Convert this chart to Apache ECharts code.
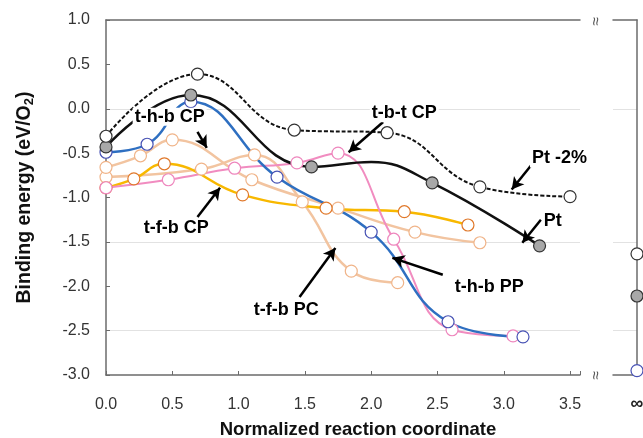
<!DOCTYPE html>
<html>
<head>
<meta charset="utf-8">
<script src="https://cdn.jsdelivr.net/npm/echarts@6/dist/echarts.min.js"></script>
<style>html,body{margin:0;padding:0;background:#fff}#main{width:643px;height:438px}</style>
</head>
<body>
<div id="main"></div>
<script>
// 数据：从图上读出的 [x, y]
var ptMinus2 = [[0,-0.31],[0.69,0.39],[1.42,-0.24],[2.12,-0.27],[2.82,-0.88],[3.5,-0.99]];
var pt = [[0,-0.43],[0.64,0.155],[1.55,-0.655],[2.0,-0.60],[2.46,-0.835],[3.27,-1.545]];
var ptNoMarker = [2.0];   // 曲线经过但没有圆点的位置
var thbPP = [[0,-0.49],[0.31,-0.40],[0.64,0.08],[1.29,-0.77],[2.0,-1.39],[2.58,-2.40],[3.145,-2.57]];
var tbtCP = [[0,-0.89],[0.47,-0.80],[0.97,-0.67],[1.44,-0.61],[1.75,-0.50],[2.17,-1.47],[2.61,-2.49],[3.07,-2.56]];
var tfbCP = [[0,-0.89],[0.21,-0.79],[0.44,-0.62],[1.03,-0.97],[1.66,-1.12],[2.25,-1.16],[2.73,-1.31]];
var thbCP = [[0,-0.66],[0.26,-0.53],[0.50,-0.35],[1.10,-0.80],[1.75,-1.12],[2.33,-1.39],[2.82,-1.51]];
var tfbPC = [[0,-0.77],[0.72,-0.68],[1.12,-0.52],[1.48,-1.05],[1.85,-1.83],[2.20,-1.96]];

// 右侧 ∞ 处的值
var infPtMinus2 = [[1,-1.635]];
var infPt = [[1,-2.11]];
var infThbPP = [[1,-2.95]];

// 标注文字 + 箭头（数据坐标）
var notes = [
    {text:'t-h-b CP', at:[0.48,-0.09], from:[0.69,-0.26], to:[0.76,-0.44]},
    {text:'t-b-t CP', at:[2.25,-0.05], from:[2.09,-0.15], to:[1.83,-0.49]},
    {text:'Pt -2%', at:[3.42,-0.56], from:[3.21,-0.63], to:[3.06,-0.91]},
    {text:'Pt', at:[3.37,-1.27], from:[3.28,-1.25], to:[3.14,-1.51]},
    {text:'t-h-b PP', at:[2.89,-2.01], from:[2.54,-1.87], to:[2.16,-1.68]},
    {text:'t-f-b PC', at:[1.36,-2.27], from:[1.46,-2.12], to:[1.73,-1.57]},
    {text:'t-f-b CP', at:[0.53,-1.34], from:[0.69,-1.22], to:[0.86,-0.89]}
];

var font = 'Liberation Sans';
var axisGray = '#6b6b6b';
// 只在 0.0 / -1.5 / -2.5 有浅色网格线
var gridColors = ['transparent','#e2e2e2','transparent','#e2e2e2','transparent','transparent','#e2e2e2','transparent','transparent'];

function curve(name, data, lineColor, edgeColor, fill, width, dash, noMarker) {
    var items = data.map(function (p) {
        if (noMarker && noMarker.indexOf(p[0]) >= 0) {
            return {value: p, symbol: 'none'};
        }
        return p;
    });
    return {
        name: name,
        type: 'line',
        xAxisIndex: 0, yAxisIndex: 0,
        data: items,
        smooth: 0.45,
        clip: false,
        symbol: 'circle',
        symbolSize: 12,
        lineStyle: {color: lineColor, width: width, type: dash || 'solid'},
        itemStyle: {color: fill, borderColor: edgeColor, borderWidth: 1.2}
    };
}

function infPoint(name, data, edgeColor, fill) {
    return {
        name: name,
        type: 'line',
        xAxisIndex: 2, yAxisIndex: 1,
        data: data,
        clip: false,
        symbol: 'circle',
        symbolSize: 12,
        lineStyle: {width: 0},
        itemStyle: {color: fill, borderColor: edgeColor, borderWidth: 1.2}
    };
}

var myChart = echarts.init(document.getElementById('main'), null, {renderer: 'canvas'});

var option = {
    backgroundColor: '#fff',
    animation: false,
    textStyle: {fontFamily: font},
    grid: [
        {left: 106, top: 20, width: 474, height: 355, outerBoundsMode: 'none', containLabel: false},
        {left: 613, top: 20, width: 24, height: 355, outerBoundsMode: 'none', containLabel: false}
    ],
    xAxis: [
        {
            type: 'value', gridIndex: 0, min: 0, max: 3.575, interval: 0.5,
            name: 'Normalized reaction coordinate', nameLocation: 'middle', nameGap: 45,
            nameTextStyle: {fontFamily: font, fontSize: 18.5, fontWeight: 'bold', color: '#111', padding: [0, 0, 0, 30]},
            axisLine: {onZero: false, lineStyle: {color: axisGray, width: 1.5}},
            axisTick: {inside: true, length: 4, lineStyle: {color: axisGray}},
            axisLabel: {
                fontFamily: font, fontSize: 16, color: '#333', margin: 22,
                formatter: function (v) { return Math.abs(v * 2 - Math.round(v * 2)) < 1e-6 ? v.toFixed(1) : ''; }
            },
            splitLine: {show: false}
        },
        {
            type: 'value', gridIndex: 0, position: 'top', min: 0, max: 3.575,
            axisLine: {onZero: false, lineStyle: {color: axisGray, width: 1.5}},
            axisTick: {show: false}, axisLabel: {show: false}, splitLine: {show: false}
        },
        {
            type: 'value', gridIndex: 1, min: 0, max: 1, interval: 1,
            axisLine: {onZero: false, lineStyle: {color: axisGray, width: 1.5}},
            axisTick: {show: false},
            axisLabel: {
                fontFamily: font, fontSize: 18, fontWeight: 'bold', color: '#222', margin: 20,
                formatter: function (v) { return v === 1 ? '∞' : ''; }
            },
            splitLine: {show: false}
        },
        {
            type: 'value', gridIndex: 1, position: 'top', min: 0, max: 1,
            axisLine: {onZero: false, lineStyle: {color: axisGray, width: 1.5}},
            axisTick: {show: false}, axisLabel: {show: false}, splitLine: {show: false}
        }
    ],
    yAxis: [
        {
            type: 'value', gridIndex: 0, min: -3, max: 1, interval: 0.5,
            name: '{a|Binding energy (eV/O}{s|2}{a|)}', nameLocation: 'middle', nameGap: 70,
            nameTextStyle: {
                rich: {
                    a: {fontFamily: font, fontSize: 19.5, fontWeight: 'bold', color: '#111', lineHeight: 22},
                    s: {fontFamily: font, fontSize: 13, fontWeight: 'bold', color: '#111', lineHeight: 22, verticalAlign: 'bottom', padding: [8, 0, 0, 0]}
                }
            },
            axisLine: {onZero: false, lineStyle: {color: axisGray, width: 1.5}},
            axisTick: {inside: true, length: 4, lineStyle: {color: axisGray}},
            axisLabel: {fontFamily: font, fontSize: 16, color: '#333', margin: 16, formatter: function (v) { return v.toFixed(1); }},
            splitLine: {show: true, lineStyle: {color: gridColors, width: 1}}
        },
        {
            type: 'value', gridIndex: 1, position: 'right', min: -3, max: 1, interval: 0.5,
            axisLine: {onZero: false, lineStyle: {color: axisGray, width: 1.5}},
            axisTick: {show: false}, axisLabel: {show: false},
            splitLine: {show: true, lineStyle: {color: gridColors, width: 1}}
        }
    ],
    graphic: [
        {type: 'text', x: 597, y: 21, rotation: Math.PI / 2, style: {text: '≈', fontSize: 16, fill: '#555', align: 'center', verticalAlign: 'middle'}},
        {type: 'text', x: 597, y: 375, rotation: Math.PI / 2, style: {text: '≈', fontSize: 16, fill: '#555', align: 'center', verticalAlign: 'middle'}}
    ],
    series: [
        curve('t-f-b PC', tfbPC, '#f2c4a0', '#f0b489', '#fff', 2.5),
        curve('t-h-b CP', thbCP, '#f2c4a0', '#f0b489', '#fff', 2.5),
        curve('t-f-b CP', tfbCP, '#f8b800', '#e0782a', '#fff', 2.5),
        curve('t-b-t CP', tbtCP, '#f18cc0', '#ee86bd', '#fff', 2),
        curve('t-h-b PP', thbPP, '#2e6fc1', '#4752b4', '#fff', 2.5),
        curve('Pt', pt, '#111', '#333', '#a8a8a8', 2.5, null, ptNoMarker),
        curve('Pt -2%', ptMinus2, '#111', '#333', '#fff', 2, [4, 2]),
        infPoint('Pt -2% ∞', infPtMinus2, '#333', '#fff'),
        infPoint('Pt ∞', infPt, '#333', '#a8a8a8'),
        infPoint('t-h-b PP ∞', infThbPP, '#4752b4', '#fff'),
        {
            name: 'notes',
            type: 'line',
            xAxisIndex: 0, yAxisIndex: 0,
            data: [],
            z: 10,
            markLine: {
                silent: true,
                symbol: ['none', 'arrow'],
                symbolSize: [10, 12],
                label: {show: false},
                lineStyle: {color: '#000', width: 2.5, type: 'solid'},
                data: notes.map(function (n) { return [{coord: n.from}, {coord: n.to}]; })
            },
            markPoint: {
                silent: true,
                symbol: 'circle',
                symbolSize: 1,
                itemStyle: {color: 'transparent'},
                label: {
                    show: true, position: 'inside', formatter: '{b}',
                    fontFamily: font, fontSize: 18, fontWeight: 'bold', color: '#000',
                    backgroundColor: '#fff', padding: [0, 2]
                },
                data: notes.map(function (n) { return {name: n.text, coord: n.at}; })
            }
        }
    ]
};

myChart.setOption(option);
</script>
</body>
</html>
